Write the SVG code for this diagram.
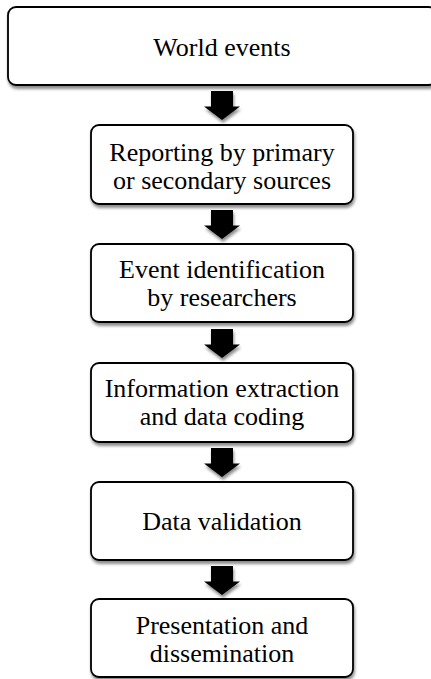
<svg xmlns="http://www.w3.org/2000/svg" width="431" height="679" viewBox="0 0 431 679">
<defs>
<filter id="sh" x="-10%" y="-10%" width="120%" height="130%">
<feDropShadow dx="1" dy="3" stdDeviation="1.8" flood-color="#000" flood-opacity="0.45"/>
</filter>
<path id="arr" d="M-11,0 H11 V15.5 H18 L0,29 L-18,15.5 H-11 Z"/>
</defs>
<style>
.box{fill:#fff;stroke:#000;stroke-width:1.8;filter:url(#sh)}
.t{font-family:'Liberation Serif','Times New Roman',Times,serif;font-size:26px;fill:#000;text-anchor:middle}
.a{fill:#000;filter:url(#sh)}
</style>
<rect width="431" height="679" fill="#fff"/>
<g id="connectors">
<use href="#arr" class="a" x="222" y="91"/>
<use href="#arr" class="a" x="222" y="210"/>
<use href="#arr" class="a" x="222" y="329"/>
<use href="#arr" class="a" x="222" y="448"/>
<use href="#arr" class="a" x="222" y="566"/>
</g>
<g id="n1">
<rect class="box" x="8" y="7" width="429" height="78" rx="8"/>
<text class="t" x="222" y="56">World events</text>
</g>
<g id="n2">
<rect class="box" x="91" y="125" width="262" height="79" rx="8"/>
<text class="t" x="222" y="160.5">Reporting by primary</text>
<text class="t" x="222" y="188.5">or secondary sources</text>
</g>
<g id="n3">
<rect class="box" x="91" y="244" width="262" height="78" rx="8"/>
<text class="t" x="222" y="278">Event identification</text>
<text class="t" x="222" y="306">by researchers</text>
</g>
<g id="n4">
<rect class="box" x="91" y="363" width="262" height="79" rx="8"/>
<text class="t" x="222" y="396.5">Information extraction</text>
<text class="t" x="222" y="424.5">and data coding</text>
</g>
<g id="n5">
<rect class="box" x="91" y="482" width="262" height="78" rx="8"/>
<text class="t" x="222" y="530">Data validation</text>
</g>
<g id="n6">
<rect class="box" x="91" y="599" width="262" height="78" rx="8"/>
<text class="t" x="222" y="633.5">Presentation and</text>
<text class="t" x="222" y="661.5">dissemination</text>
</g>
</svg>
